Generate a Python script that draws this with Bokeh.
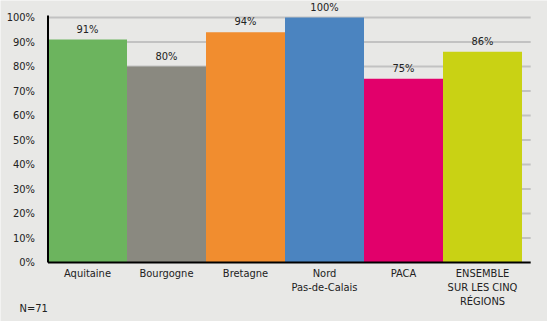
from bokeh.plotting import figure
from bokeh.models import ColumnDataSource, Range1d
from bokeh.core.properties import value
from bokeh.embed import file_html
from bokeh.resources import INLINE

categories = ["Aquitaine", "Bourgogne", "Bretagne", "Nord\nPas-de-Calais", "PACA",
              "ENSEMBLE\nSUR LES CINQ\nRÉGIONS"]
values = [91, 80, 94, 100, 75, 86]
colors = ["#6cb45e", "#8a8980", "#f18d2f", "#4b84c0", "#e2006b", "#c9d214"]
y_ticks = [0, 10, 20, 30, 40, 50, 60, 70, 80, 90, 100]
y_tick_labels = [f"{t}%" for t in y_ticks]
note = "N=71"

FONT = value("DejaVu Sans Condensed")
TXT = "#222222"
BG = "#e8e8e6"

n = len(categories)
xs = [i + 0.5 for i in range(n)]
x_end = n + 0.11          # axis/grid extend a little past the last bar
y_axis_top = 100.8

# pixel scale: 79 px per category, 2.45 px per percentage point
px_x, px_y = 79.0, 2.45
left_px, base_px, W, H = 47.5, 262.0, 547, 321

src = ColumnDataSource(dict(x=xs, top=values, color=colors, cat=categories,
                            label=[f"{v}%" for v in values]))
grid_src = ColumnDataSource(dict(y=y_ticks[1:]))
tick_src = ColumnDataSource(dict(y=y_ticks, label=y_tick_labels))

p = figure(width=W, height=H, frame_width=W, frame_height=H,
           output_backend="svg", toolbar_location=None,
           x_range=Range1d(-left_px / px_x, (W - left_px) / px_x),
           y_range=Range1d(-(H - base_px) / px_y, base_px / px_y),
           x_axis_location=None, y_axis_location=None,
           min_border=0, background_fill_color=BG, border_fill_color=BG)
p.outline_line_color = None
p.xgrid.visible = False
p.ygrid.visible = False

# horizontal gridlines
p.segment(x0=0, x1=x_end, y0="y", y1="y", source=grid_src,
          line_color="#c2c2c2", line_width=2)

# bars
p.vbar(x="x", top="top", width=1.0, bottom=0, fill_color="color",
       line_color=None, source=src)

# value labels
p.text(x="x", y="top", text="label", source=src, text_align="center",
       text_baseline="bottom", y_offset=-4, text_font=FONT,
       text_font_size="11px", text_color=TXT)

# axis lines
p.segment(x0=0, x1=0, y0=0, y1=y_axis_top, line_color="black", line_width=2)
p.segment(x0=0, x1=x_end, y0=0, y1=0, line_color="black", line_width=2)

# y tick labels
p.text(x=0, y="y", text="label", source=tick_src, text_align="right",
       text_baseline="middle", x_offset=-13, text_font=FONT,
       text_font_size="11px", text_color=TXT)

# category labels
p.text(x="x", y=0, text="cat", source=src, text_align="center",
       text_baseline="top", y_offset=4, text_line_height=1.08,
       text_font=FONT, text_font_size="11px", text_color=TXT)

# sample size note
p.text(x=[0], y=[0], text=[note], text_align="left", text_baseline="alphabetic",
       x_offset=-28.5, y_offset=46, text_font=FONT, text_font_size="11px",
       text_color=TXT)

open("out.html", "w").write(file_html(p, INLINE))
